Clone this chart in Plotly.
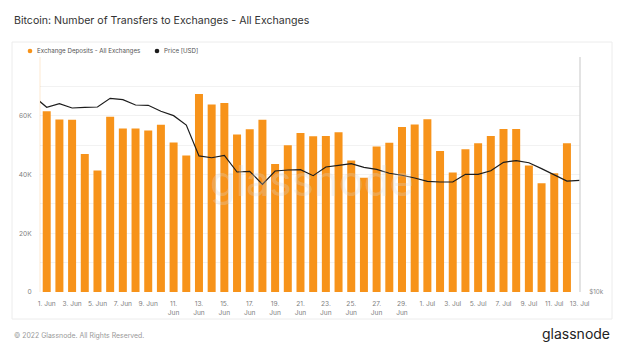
import plotly.graph_objects as go
import pandas as pd

# ---- data ----
bar_dates = pd.date_range("2022-06-01", "2022-07-12", freq="D")
deposits = [61500, 58700, 58600, 47000, 41400, 59700, 55700, 55700, 55000, 56900,
            50900, 46500, 67400, 63800, 64300, 53600, 55400, 58600, 43600, 50000,
            54100, 53000, 53100, 54400, 44800, 38900, 49500, 50800, 56200, 57000,
            58800, 48000, 40700, 48600, 50600, 53100, 55500, 55500, 43100, 37000,
            40400, 50600]

price_dates = pd.date_range("2022-05-31", "2022-07-13", freq="D")
price = [31430, 29510, 30140, 29390, 29510, 29560, 31110, 30860, 29910, 29860,
         28830, 28100, 26600, 22190, 21960, 22270, 20200, 20280, 18790, 20320,
         20440, 20480, 19770, 20800, 21010, 21210, 20760, 20520, 20050, 19820,
         19500, 19130, 19050, 19050, 19930, 19930, 20350, 21380, 21590, 21330,
         20600, 19820, 19160, 19240]

tick_dates = pd.date_range("2022-06-01", "2022-07-13", freq="2D")
tick_text = ["1. Jun", "3. Jun", "5. Jun", "7. Jun", "9. Jun", "11.<br>Jun", "13.<br>Jun",
             "15.<br>Jun", "17.<br>Jun", "19.<br>Jun", "21.<br>Jun", "23.<br>Jun", "25.<br>Jun",
             "27.<br>Jun", "29.<br>Jun", "1. Jul", "3. Jul", "5. Jul", "7. Jul", "9. Jul",
             "11. Jul", "13. Jul"]

y_tickvals = [0, 10000, 20000, 30000, 40000, 50000, 60000, 70000, 80000]
y_ticktext = ["0", "", "20K", "", "40K", "", "60K", "", ""]

TITLE = "Bitcoin: Number of Transfers to Exchanges - All Exchanges"
LEG1 = "Exchange Deposits - All Exchanges"
LEG2 = "Price [USD]"

ORANGE = "#F7931A"

# ---- geometry helpers (pixels -> paper) ----
W, H = 624, 351
L, R, T, B = 40, 44, 57, 59
PW, PH = W - L - R, H - T - B


def px(x):
    return (x - L) / PW


def py(y):
    return (H - B - y) / PH


fig = go.Figure()
fig.add_trace(go.Bar(x=bar_dates, y=deposits, marker=dict(color=ORANGE, line=dict(width=0)),
                     name=LEG1, yaxis="y"))
fig.add_trace(go.Scatter(x=price_dates, y=price, mode="lines", name=LEG2,
                         line=dict(color="#1c1c1c", width=1.2), yaxis="y2"))

x0 = pd.Timestamp("2022-06-01") - pd.Timedelta(hours=12.7)
x1 = pd.Timestamp("2022-07-13") + pd.Timedelta(hours=0.7)

fig.update_layout(
    width=W, height=H,
    margin=dict(l=L, r=R, t=T, b=B, pad=0),
    paper_bgcolor="white", plot_bgcolor="white",
    showlegend=False,
    bargap=0.37,
    font=dict(family="Inter", color="#777"),
    xaxis=dict(type="date", range=[x0, x1], tickvals=list(tick_dates), ticktext=tick_text,
               tickfont=dict(size=6.6, color="#808080"), showgrid=False, zeroline=False,
               showline=False, ticks="outside", ticklen=5, tickcolor="rgba(0,0,0,0)",
               tickangle=0),
    yaxis=dict(range=[0, 80000], tickvals=y_tickvals, ticktext=y_ticktext,
               tickfont=dict(size=6.6, color="#808080"), showgrid=True, gridcolor="#f2f2f2",
               gridwidth=1, zeroline=False, showline=False, ticks="outside", ticklen=6,
               tickcolor="rgba(0,0,0,0)"),
    yaxis2=dict(overlaying="y", side="right", type="log", range=[4, 4 + 235 / 393],
                tickvals=[10000], ticktext=["$10k"], tickfont=dict(size=6.3, color="#8a8a8a"),
                showgrid=False, zeroline=False, showline=False, ticks="outside", ticklen=7,
                tickcolor="rgba(0,0,0,0)"),
)

shapes = [
    # card border
    dict(type="rect", xref="paper", yref="paper", x0=px(12), x1=px(612), y0=py(319), y1=py(42),
         line=dict(color="#ececec", width=1), fillcolor="rgba(0,0,0,0)", layer="below"),
    # right plot border
    dict(type="line", xref="paper", yref="paper", x0=1, x1=1, y0=0, y1=1,
         line=dict(color="#d0d0d0", width=1.2)),
    # faint left line
    dict(type="line", xref="paper", yref="paper", x0=0, x1=0, y0=0, y1=1,
         line=dict(color="rgba(247,147,26,0.2)", width=1)),
    # legend dots
    dict(type="circle", xref="paper", yref="paper", xsizemode="pixel", ysizemode="pixel",
         xanchor=px(30), yanchor=py(51), x0=-2.3, x1=2.3, y0=-2.3, y1=2.3,
         fillcolor=ORANGE, line=dict(width=0)),
    dict(type="circle", xref="paper", yref="paper", xsizemode="pixel", ysizemode="pixel",
         xanchor=px(157), yanchor=py(51), x0=-2.3, x1=2.3, y0=-2.3, y1=2.3,
         fillcolor="#1c1c1c", line=dict(width=0)),
]
fig.update_layout(shapes=shapes)

ann = [
    dict(text=TITLE, x=px(12), y=py(20), xanchor="left", yanchor="middle",
         font=dict(size=10.6, color="#333", family="Inter")),
    dict(text=LEG1, x=px(34.5), y=py(51), xanchor="left", yanchor="middle",
         font=dict(size=6.2, color="#555", family="Inter")),
    dict(text=LEG2, x=px(161.5), y=py(51), xanchor="left", yanchor="middle",
         font=dict(size=6.2, color="#555", family="Inter")),
    dict(text="© 2022 Glassnode. All Rights Reserved.", x=px(12), y=py(335), xanchor="left",
         yanchor="middle", font=dict(size=6.9, color="#999", family="Inter")),
    dict(text="glassnode", x=px(612), y=py(333), xanchor="right", yanchor="middle",
         font=dict(size=14, color="#222", family="Inter")),
    dict(text="glassnode", x=px(312), y=py(180), xanchor="center", yanchor="middle",
         font=dict(size=42, color="rgba(215,215,215,0.3)", family="Inter")),
]
for a in ann:
    a.update(xref="paper", yref="paper", showarrow=False)
fig.update_layout(annotations=ann)

fig.write_html("out.html")
